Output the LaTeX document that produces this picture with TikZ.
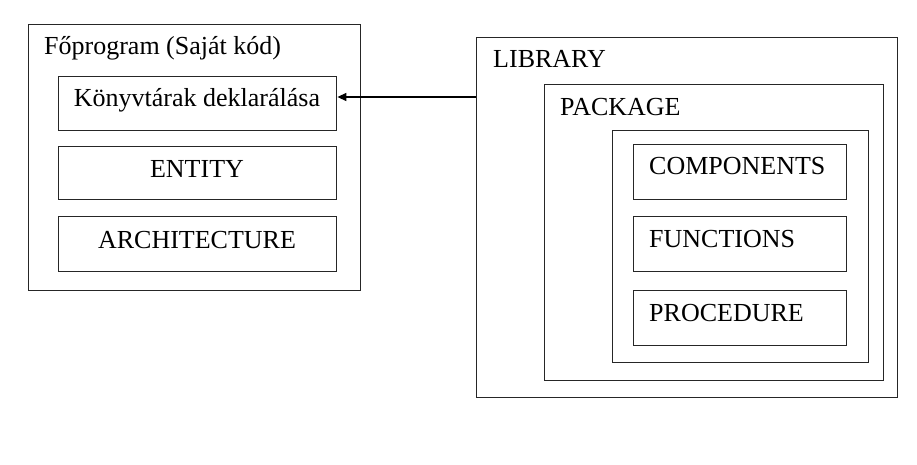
\documentclass[tikz,border=0pt]{standalone}
\usepackage{fontspec}
\setmainfont{Liberation Serif}
\usetikzlibrary{arrows.meta}
\begin{document}
\begin{tikzpicture}[x=1pt,y=-1pt,
  box/.style={draw=black!85,line width=1.4pt,inner sep=0pt,anchor=north west},
  lbl/.style={inner sep=0pt,font=\fontsize{26}{30}\selectfont,text=black},
  conn/.style={draw=black,line width=1.3pt,-{Triangle[length=9pt,width=8pt]}}]
\useasboundingbox (0,0) rectangle (917,465);
\fill[white] (0,0) rectangle (917,465);
% left main program
\node[box,minimum width=332pt,minimum height=266pt] (main) at (28,24) {};
\node[lbl,anchor=base west] (maint) at (44,55) {Főprogram (Saját kód)};
\node[box,minimum width=278pt,minimum height=54pt] (k) at (58,76) {};
\node[lbl,anchor=base] (kt) at (197,107) {Könyvtárak deklarálása};
\node[box,minimum width=278pt,minimum height=53pt] (ent) at (58,146) {};
\node[lbl,anchor=base] (entt) at (197,178) {ENTITY};
\node[box,minimum width=278pt,minimum height=55pt] (arch) at (58,216) {};
\node[lbl,anchor=base] (archt) at (197,248) {ARCHITECTURE};
% right library
\node[box,minimum width=421pt,minimum height=360pt] (lib) at (476,37) {};
\node[lbl,anchor=base west] (libt) at (493,68) {LIBRARY};
\node[box,minimum width=339pt,minimum height=296pt] (pkg) at (544,84) {};
\node[lbl,anchor=base west] (pkgt) at (560,116) {PACKAGE};
\node[box,minimum width=256pt,minimum height=232pt] (inner) at (612,130) {};
\node[box,minimum width=213pt,minimum height=55pt] (comp) at (633,144) {};
\node[lbl,anchor=base west] (compt) at (649,175) {COMPONENTS};
\node[box,minimum width=213pt,minimum height=55pt] (func) at (633,216) {};
\node[lbl,anchor=base west] (funct) at (649,247) {FUNCTIONS};
\node[box,minimum width=213pt,minimum height=55pt] (proc) at (633,290) {};
\node[lbl,anchor=base west] (proct) at (649,321) {PROCEDURE};
% connector
\coordinate (a) at (lib.west |- 0,97);
\draw[conn] (a) -- (k.east |- a);
\end{tikzpicture}
\end{document}
